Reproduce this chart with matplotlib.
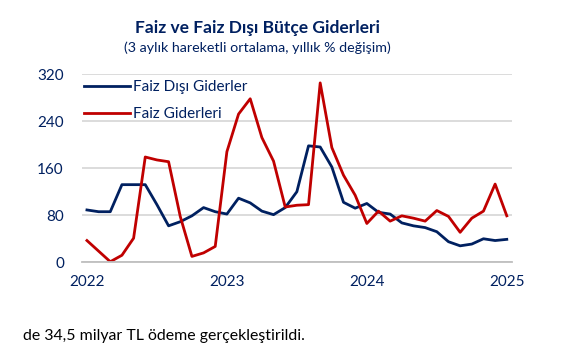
import numpy as np
import matplotlib.pyplot as plt

# veri (3 aylik hareketli ortalama, yillik % degisim), Ocak 2022 - Ocak 2025
faiz_disi = [89, 86, 86, 132, 132, 132, 98, 62, 69, 79, 93, 86,
             82, 109, 101, 87, 81, 93, 120, 198, 196, 162, 102, 92,
             100, 85, 82, 67, 62, 59, 52, 35, 28, 31, 40, 37, 39]
faiz = [37, 19, 1, 12, 41, 179, 174, 171, 78, 10, 16, 27,
        188, 252, 278, 212, 172, 94, 97, 98, 305, 195, 148, 114,
        66, 87, 70, 79, 75, 70, 88, 78, 51, 75, 87, 133, 79]
yil_etiket = ['2022', '2023', '2024', '2025']
y_ticks = [0, 80, 160, 240, 320]

lacivert = '#002060'
kirmizi = '#C00000'
plt.rcParams['font.family'] = ['Lato', 'DejaVu Sans']

ay = np.arange(len(faiz))

fig = plt.figure(figsize=(5.77, 3.51), dpi=100)
ax = fig.add_axes([0.142, 0.2527, 0.745, 0.5363])

ax.plot(ay, faiz_disi, color=lacivert, lw=2, label='Faiz Dışı Giderler')
ax.plot(ay, faiz, color=kirmizi, lw=2, label='Faiz Giderleri')

ax.set_ylim(0, 320)
ax.set_xlim(-0.43, len(ay) - 1 + 0.43)
ax.set_yticks(y_ticks)
ax.set_xticks([0, 12, 24, 36])
ax.set_xticklabels(yil_etiket)
ax.tick_params(length=0, labelsize=11, colors=lacivert, pad=9)
ax.tick_params(axis='y', pad=13)
ax.grid(axis='y', color='#D9D9D9', lw=1.3)
ax.set_axisbelow(True)
for s in ['top', 'right', 'left']:
    ax.spines[s].set_visible(False)
ax.spines['bottom'].set_color('#BFBFBF')
ax.spines['bottom'].set_linewidth(1.3)

leg = ax.legend(loc='upper left', bbox_to_anchor=(-0.02, 1.025), frameon=False,
                fontsize=11, handlelength=3.0, handletextpad=0.2,
                labelspacing=0.85, borderaxespad=0.3)
for t in leg.get_texts():
    t.set_color(lacivert)

fig.text(0.446, 0.92, 'Faiz ve Faiz Dışı Bütçe Giderleri', ha='center', va='center',
         fontsize=12.5, fontweight='bold', color=lacivert)
fig.text(0.446, 0.865, '(3 aylık hareketli ortalama, yıllık % değişim)', ha='center',
         va='center', fontsize=10.3, color=lacivert)
fig.text(0.04, 0.043, 'de 34,5 milyar TL ödeme gerçekleştirildi.', ha='left',
         va='center', fontsize=11.4, color='black')

fig.savefig('out.png', dpi=100)
